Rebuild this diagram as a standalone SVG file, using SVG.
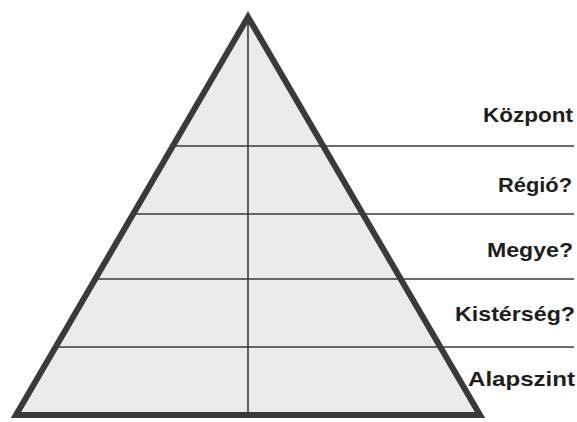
<svg xmlns="http://www.w3.org/2000/svg" width="577" height="422" viewBox="0 0 577 422">
  <style>
    .lbl { font-family: "Liberation Sans", Arial, sans-serif; font-weight: bold; font-size: 21px; fill: #1e1e1e; text-anchor: end; }
    .ln { stroke: #3a3a3a; stroke-width: 1.6; fill: none; }
  </style>
  <rect width="577" height="422" fill="#ffffff"/>
  <g id="pyramid-fill">
    <polygon points="248,17 16,415 480,415" fill="#ebebeb"/>
  </g>
  <g id="connectors">
    <line class="ln" x1="172.8" y1="146" x2="574" y2="146"/>
    <line class="ln" x1="133.2" y1="214" x2="574" y2="214"/>
    <line class="ln" x1="95.3" y1="279" x2="574" y2="279"/>
    <line class="ln" x1="55.6" y1="347" x2="574" y2="347"/>
    <line class="ln" x1="248" y1="17" x2="248" y2="415"/>
  </g>
  <g id="pyramid-outline">
    <polygon points="248,17 16,415 480,415" fill="none" stroke="#3a3a3a" stroke-width="6" stroke-linejoin="miter"/>
  </g>
  <g id="kozpont"><text class="lbl" x="573" y="122" textLength="90" lengthAdjust="spacingAndGlyphs">Központ</text></g>
  <g id="regio"><text class="lbl" x="572" y="192" textLength="74" lengthAdjust="spacingAndGlyphs">Régió?</text></g>
  <g id="megye"><text class="lbl" x="573" y="257" textLength="86" lengthAdjust="spacingAndGlyphs">Megye?</text></g>
  <g id="kisterseg"><text class="lbl" x="575" y="321" textLength="120" lengthAdjust="spacingAndGlyphs">Kistérség?</text></g>
  <g id="alapszint"><text class="lbl" x="575" y="386" textLength="107" lengthAdjust="spacingAndGlyphs">Alapszint</text></g>
</svg>
